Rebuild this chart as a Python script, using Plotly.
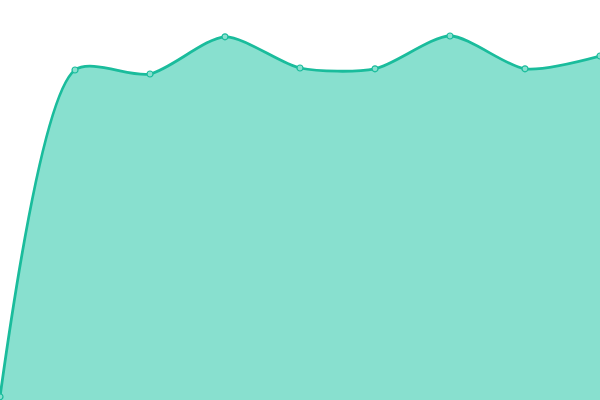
import plotly.graph_objects as go

x_vals = [0, 1, 2, 3, 4, 5, 6, 7, 8]
y_vals = [0.8, 82.5, 81.5, 90.8, 83.0, 82.8, 91.0, 82.8, 86.0]

fig = go.Figure()
fig.add_trace(
    go.Scatter(
        x=x_vals,
        y=y_vals,
        mode="lines+markers",
        line=dict(color="#1abc9c", width=2.8, shape="spline", smoothing=0.75),
        marker=dict(size=6, color="#88e0cf", line=dict(color="#1abc9c", width=1.2)),
        fill="tozeroy",
        fillcolor="#88e0cf",
        cliponaxis=False,
    )
)

fig.update_layout(
    width=600,
    height=400,
    margin=dict(l=0, r=0, t=0, b=0),
    paper_bgcolor="white",
    plot_bgcolor="white",
    showlegend=False,
    xaxis=dict(range=[0, 8], visible=False),
    yaxis=dict(range=[0, 100], visible=False),
)

# page body has a default 8px margin; drop it so the chart fills the window
fig.write_html(
    "out.html",
    config={"displayModeBar": False},
    post_script="document.body.style.margin='0';document.body.style.overflow='hidden';",
)
